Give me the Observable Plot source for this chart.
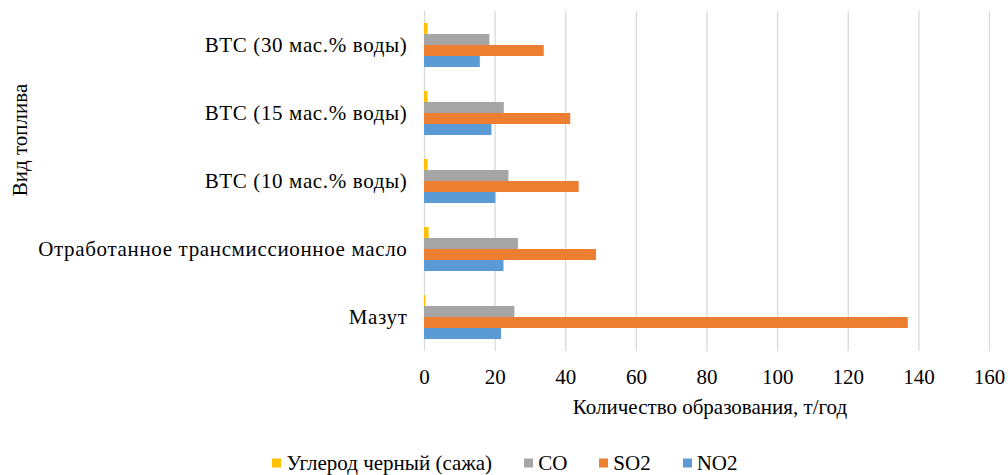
<!DOCTYPE html>
<html>
<head>
<meta charset="utf-8">
<script src="https://cdn.jsdelivr.net/npm/d3@7"></script>
<script src="https://cdn.jsdelivr.net/npm/@observablehq/plot@0.6"></script>
<style>
  html, body { margin: 0; padding: 0; background: #fff; }
  #wrap { position: relative; width: 1008px; height: 475px; font-family: "Liberation Serif", serif; color: #000; }
  #ytitle { position: absolute; left: 20px; top: 140px; transform: translate(-50%, -50%) rotate(-90deg); font-size: 21px; white-space: nowrap; }
  #xtitle { position: absolute; left: 710px; top: 407px; transform: translate(-50%, -50%); font-size: 21px; white-space: nowrap; }
  #legend { position: absolute; left: 0; top: 463px; width: 1008px; transform: translateY(-50%); display: flex; justify-content: center; padding-left: 2px; box-sizing: border-box; gap: 32px; font-size: 21px; }
  .item { display: flex; align-items: center; white-space: nowrap; }
  .sw { width: 9px; height: 9px; margin-right: 5px; display: inline-block; }
  #chart g[aria-label="fy-axis tick label"] text { letter-spacing: 0.65px; }
</style>
</head>
<body>
<div id="wrap">
  <div id="chart"></div>
  <div id="ytitle"></div>
  <div id="xtitle"></div>
  <div id="legend"></div>
</div>
<script>
const fuels = [
  "ВТС (30 мас.% воды)",
  "ВТС (15 мас.% воды)",
  "ВТС (10 мас.% воды)",
  "Отработанное трансмиссионное масло",
  "Мазут"
];
const seriesNames = ["Углерод черный (сажа)", "CO", "SO2", "NO2"];
const seriesColors = ["#FFC000", "#A5A5A5", "#ED7D31", "#5B9BD5"];
const soot = [1.0, 1.0, 1.0, 1.3, 0.4];
const co   = [18.5, 22.6, 23.9, 26.6, 25.6];
const so2  = [33.9, 41.4, 43.8, 48.7, 137];
const no2  = [15.8, 19.1, 20.2, 22.5, 21.8];
const xTicks = [0, 20, 40, 60, 80, 100, 120, 140, 160];
const xTitle = "Количество образования, т/год";
const yTitle = "Вид топлива";

const valuesBySeries = [soot, co, so2, no2];
const data = [];
fuels.forEach((f, i) => {
  seriesNames.forEach((s, j) => {
    data.push({fuel: f, series: s, value: valuesBySeries[j][i]});
  });
});

const chart = Plot.plot({
  width: 1008,
  height: 430,
  marginLeft: 424,
  marginRight: 19,
  marginTop: 10,
  marginBottom: 78,
  style: {fontFamily: "Liberation Serif", fontSize: "21px", color: "#000", background: "#fff", overflow: "visible"},
  x: {domain: [0, 160], ticks: xTicks, tickSize: 0, tickPadding: 18, label: null},
  fy: {domain: fuels, padding: 0, label: null, tickSize: 0, tickPadding: 17, axis: "left"},
  y: {domain: seriesNames, axis: null, paddingInner: 0, paddingOuter: 0.97},
  color: {domain: seriesNames, range: seriesColors},
  marks: [
    Plot.gridX(xTicks, {stroke: "#d9d9d9", strokeOpacity: 1, strokeWidth: 1.3}),
    Plot.barX(data, {x: "value", y: "series", fy: "fuel", fill: "series", insetTop: 0, insetBottom: 0})
  ]
});
document.getElementById("chart").appendChild(chart);
document.getElementById("ytitle").textContent = yTitle;
document.getElementById("xtitle").textContent = xTitle;

const legend = document.getElementById("legend");
seriesNames.forEach((s, j) => {
  const item = document.createElement("div");
  item.className = "item";
  const sw = document.createElement("span");
  sw.className = "sw";
  sw.style.background = seriesColors[j];
  const t = document.createElement("span");
  t.textContent = s;
  item.appendChild(sw);
  item.appendChild(t);
  legend.appendChild(item);
});
</script>
</body>
</html>
